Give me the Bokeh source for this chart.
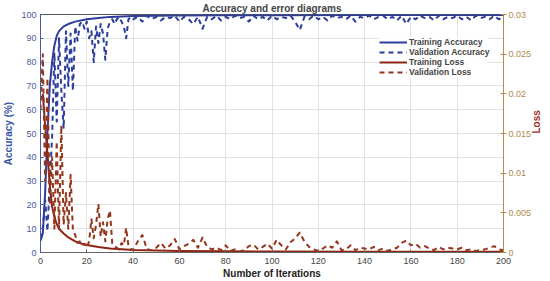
import math
from bokeh.plotting import figure
from bokeh.models import Range1d, LinearAxis, FixedTicker, Legend, LegendItem
from bokeh.embed import file_html
from bokeh.resources import INLINE

# ---------------- data ----------------
train_iter = [0, 1, 2, 3, 4, 5, 6, 7, 8, 10, 12, 15, 20, 25, 30, 40, 60, 80, 100, 140, 200]
train_acc = [5, 8, 25, 50, 70, 80, 87, 91, 93, 95, 96, 97, 98, 98.5, 99, 99.4, 99.6, 99.7, 99.7, 99.8, 99.8]

loss_iter = [1, 2, 3, 4, 5, 6, 7, 8, 10, 12, 15, 18, 20, 25, 30, 40, 60, 80, 100, 140, 200]
train_loss = [0.020, 0.016, 0.0125, 0.0085, 0.0058, 0.0045, 0.0036, 0.003, 0.0024, 0.0019, 0.0014,
              0.0011, 0.00095, 0.0007, 0.0005, 0.0003, 0.0002, 0.00015, 0.00012, 0.0001, 0.0001]

val_iter = list(range(0, 41)) + list(range(42, 201, 2))

val_acc = [6, 10, 22, 9, 30, 48, 84, 55, 90, 68,
           52, 93, 70, 92, 68, 95, 89, 96, 97, 94,
           97, 90, 93, 80, 95, 88, 96, 92, 81, 94,
           97, 98, 96, 98, 99, 97, 95, 90, 98, 99, 98,
           99, 97, 99.5, 98, 99, 97.5, 99, 98.5, 99.5, 97,
           99, 98, 96, 99, 94, 99, 98, 99.5, 97.5, 99,
           98, 99.5, 98.5, 99, 97, 99.5, 98, 99, 97.5, 99.5,
           98, 99, 98.5, 99.5, 97, 93.5, 99, 98, 99.5, 98,
           99, 97.5, 99.5, 98.5, 99, 98, 99.5, 97, 99, 98.5,
           99.5, 98, 99, 99.5, 98, 99, 97.5, 99.5, 96, 99,
           98, 99.5, 98.5, 99, 97.5, 99.5, 98, 99, 98.5, 99.5,
           98, 99, 97.5, 99.5, 98.5, 99, 98, 99.5, 98, 99]

val_loss = [0.018, 0.025, 0.009, 0.022, 0.006, 0.012, 0.003, 0.014, 0.003, 0.016,
            0.0035, 0.0075, 0.003, 0.0098, 0.0028, 0.0022, 0.0012, 0.0014, 0.0009, 0.0011,
            0.0006, 0.0014, 0.0042, 0.0018, 0.0035, 0.0061, 0.002, 0.0038, 0.0014, 0.0042,
            0.0053, 0.0011, 0.0008, 0.0006, 0.0004, 0.0012, 0.0009, 0.0031, 0.0008, 0.0005, 0.0003,
            0.0014, 0.0022, 0.0004, 0.0003, 0.0006, 0.0012, 0.0005, 0.0009, 0.0017, 0.0004,
            0.0008, 0.0011, 0.0016, 0.0006, 0.0019, 0.0007, 0.0004, 0.0006, 0.0003, 0.0009,
            0.0002, 0.0004, 0.0001, 0.0003, 0.0008, 0.0010, 0.0004, 0.0007, 0.0011, 0.0005,
            0.0016, 0.0009, 0.0004, 0.0013, 0.0018, 0.0025, 0.0014, 0.0007, 0.0004, 0.0002,
            0.0005, 0.0009, 0.0006, 0.0014, 0.0003, 0.0004, 0.0009, 0.0003, 0.0006, 0.0005,
            0.0004, 0.0007, 0.0003, 0.0005, 0.0002, 0.0004, 0.0006, 0.0012, 0.0015, 0.0009,
            0.0011, 0.0006, 0.0008, 0.0005, 0.0003, 0.0007, 0.0004, 0.0006, 0.0005, 0.0004,
            0.0006, 0.0003, 0.0004, 0.0002, 0.0003, 0.0004, 0.0006, 0.0008, 0.0004, 0.0003]

x_ticks = list(range(0, 201, 20))
acc_ticks = list(range(0, 101, 10))
loss_ticks = [0, 0.005, 0.01, 0.015, 0.02, 0.025, 0.03]
loss_tick_labels = ["0", "0.005", "0.01", "0.015", "0.02", "0.025", "0.03"]

# ---------------- styling ----------------
FONT = "Liberation Sans"
BLUE = "#2c3d9c"
RED = "#8e2414"
LEFT_AX = "#4a5a9c"
RIGHT_AX = "#b08a4e"

p = figure(width=550, height=281, output_backend="svg", toolbar_location=None,
           x_range=Range1d(0, 200), y_range=Range1d(0, 100),
           title="Accuracy and error diagrams", min_border_left=0, min_border_right=0,
           min_border_top=0, min_border_bottom=0)
p.extra_y_ranges = {"loss": Range1d(0, 0.03)}

p.title.align = "center"
p.title.text_font = FONT
p.title.text_font_size = "10px"
p.title.text_font_style = "bold"
p.title.offset = 0
p.title.standoff = 1

p.outline_line_color = "#555555"
p.outline_line_width = 1
p.background_fill_color = "white"

p.xaxis.ticker = FixedTicker(ticks=x_ticks)
p.yaxis.ticker = FixedTicker(ticks=acc_ticks)
p.xgrid.ticker = FixedTicker(ticks=x_ticks)
p.ygrid.ticker = FixedTicker(ticks=acc_ticks)
p.xgrid.grid_line_color = "#e2e2e2"
p.ygrid.grid_line_color = "#e2e2e2"

p.xaxis.axis_label = "Number of Iterations"
p.xaxis.axis_label_text_font = FONT
p.xaxis.axis_label_text_font_style = "bold"
p.xaxis.axis_label_text_font_size = "10px"
p.xaxis.axis_label_text_color = "#222222"
p.xaxis.axis_label_standoff = 1
p.xaxis.major_label_text_font = FONT
p.xaxis.major_label_text_font_size = "9px"
p.xaxis.major_label_text_color = "#444444"
p.xaxis.axis_line_color = "#666666"
p.xaxis.major_tick_line_color = "#666666"
p.xaxis.major_tick_in = 3
p.xaxis.major_tick_out = 0
p.xaxis.minor_tick_line_color = None
p.xaxis.major_label_standoff = 5

p.yaxis.axis_label = "Accuracy (%)"
p.yaxis.axis_label_text_font = FONT
p.yaxis.axis_label_text_font_style = "bold"
p.yaxis.axis_label_text_font_size = "10px"
p.yaxis.axis_label_text_color = "#3a55a8"
p.yaxis.axis_label_standoff = 4
p.yaxis.major_label_text_font = FONT
p.yaxis.major_label_text_font_size = "9px"
p.yaxis.major_label_text_color = LEFT_AX
p.yaxis.axis_line_color = LEFT_AX
p.yaxis.major_tick_line_color = LEFT_AX
p.yaxis.major_tick_in = 3
p.yaxis.major_tick_out = 0
p.yaxis.minor_tick_line_color = None
p.yaxis.major_label_standoff = 4

right = LinearAxis(y_range_name="loss", ticker=FixedTicker(ticks=loss_ticks),
                   axis_label="Loss")
right.major_label_overrides = {t: l for t, l in zip(loss_ticks, loss_tick_labels)}
right.axis_label_text_font = FONT
right.axis_label_text_font_style = "bold"
right.axis_label_text_font_size = "10px"
right.axis_label_text_color = "#a03028"
right.axis_label_standoff = 2
right.axis_label_orientation = math.pi / 2
right.major_label_text_font = FONT
right.major_label_text_font_size = "9px"
right.major_label_text_color = RIGHT_AX
right.axis_line_color = RIGHT_AX
right.major_tick_line_color = RIGHT_AX
right.major_tick_in = 3
right.major_tick_out = 3
right.minor_tick_line_color = None
right.major_label_standoff = 2
p.add_layout(right, "right")

# ---------------- glyphs ----------------
r1 = p.line(train_iter, train_acc, line_color=BLUE, line_width=2, line_join="round")
r2 = p.line(val_iter, val_acc, line_color=BLUE, line_width=2, line_dash="5 4",
            line_join="round")
r3 = p.line(loss_iter, train_loss, line_color=RED, line_width=2, y_range_name="loss",
            line_join="round")
r4 = p.line(val_iter, val_loss, line_color="#93361c", line_width=2, line_dash="5 4",
            y_range_name="loss", line_join="round")

legend = Legend(items=[LegendItem(label="Training Accuracy", renderers=[r1]),
                       LegendItem(label="Validation Accuracy", renderers=[r2]),
                       LegendItem(label="Training Loss", renderers=[r3]),
                       LegendItem(label="Validation Loss", renderers=[r4])],
                location=(339, 175))
legend.label_text_font = FONT
legend.label_text_font_style = "bold"
legend.label_text_font_size = "8.5px"
legend.glyph_width = 28
legend.glyph_height = 8
legend.label_height = 8
legend.spacing = 0
legend.padding = 2
legend.label_standoff = 2
legend.border_line_color = None
legend.background_fill_alpha = 0.9
p.add_layout(legend)

open("out.html", "w").write(file_html(p, INLINE))
